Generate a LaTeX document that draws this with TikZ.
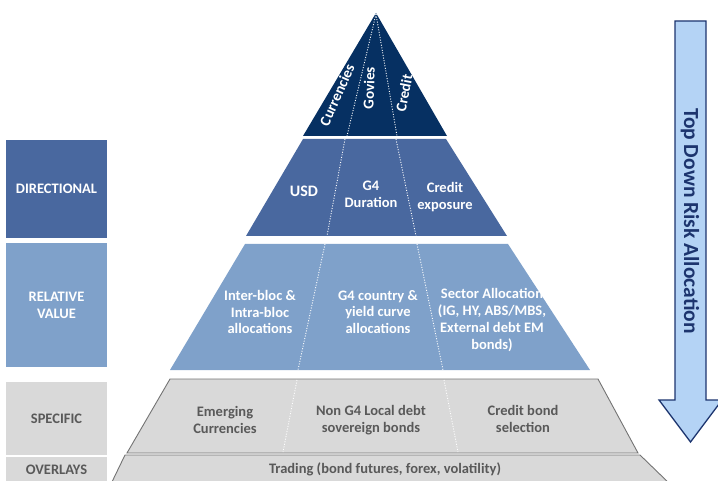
\documentclass[tikz,border=0pt]{standalone}
\usepackage{fontspec}
\setmainfont{Carlito}
\definecolor{navy}{RGB}{6,48,98}
\definecolor{dirblue}{RGB}{73,104,159}
\definecolor{relblue}{RGB}{127,161,202}
\definecolor{bandgray}{RGB}{217,217,217}
\definecolor{edgegray}{RGB}{115,115,115}
\definecolor{txtgray}{RGB}{89,89,89}
\definecolor{arrowfill}{RGB}{180,211,245}
\definecolor{arrowedge}{RGB}{28,52,110}
\tikzset{
  lbl/.style={font=\bfseries\fontsize{14.5}{16.8}\selectfont, text=white, align=center, inner sep=0pt},
  glbl/.style={font=\bfseries\fontsize{14.5}{16.8}\selectfont, text=txtgray, align=center, inner sep=0pt},
  sidebox/.style={font=\bfseries\fontsize{14.5}{16.8}\selectfont, align=center, inner sep=0pt},
  divider/.style={draw=white, line width=0.9pt, dash pattern=on 1pt off 1.6pt},
  gdivider/.style={draw=white, line width=0.9pt, dash pattern=on 1pt off 1.6pt},
}
\begin{document}
\begin{tikzpicture}[x=1pt,y=-1pt]
\useasboundingbox (0,0) rectangle (718,481);
\clip (0,0) rectangle (718,481);
% left boxes
\fill[dirblue] (6,140) rectangle (107,238);
\fill[relblue] (6,243) rectangle (107,367);
\fill[bandgray] (6,382) rectangle (107,455);
\fill[bandgray] (6,457) rectangle (107,485);
\node[sidebox, text=white] (ldir) at (56.5,189) {DIRECTIONAL};
\node[sidebox, text=white] (lrel) at (56.5,305) {RELATIVE\\VALUE};
\node[sidebox, text=txtgray] (lspec) at (56.5,418.5) {SPECIFIC};
\node[sidebox, text=txtgray] (lover) at (56.5,469.5) {OVERLAYS};
% pyramid bands
\fill[navy] (376,13) -- (447,136) -- (303,136) -- cycle;
\fill[dirblue] (303,139) -- (446,139) -- (507,236) -- (246,236) -- cycle;
\fill[relblue] (245,244) -- (508,244) -- (590,370) -- (170,370) -- cycle;
\filldraw[fill=bandgray, draw=edgegray, line width=0.9pt] (170,379) -- (598,379) -- (638,453) -- (127,453) -- cycle;
\filldraw[fill=bandgray, draw=edgegray, line width=0.9pt] (110,486) -- (125,455) -- (640,455) -- (672,486);
% dividers
\draw[divider] (376,14) -- (347,136);
\draw[divider] (376,14) -- (397,136);
\draw[divider] (345,139) -- (327,236);
\draw[divider] (396,139) -- (416,236);
\draw[divider] (325,244) -- (298,370);
\draw[divider] (417,244) -- (443,370);
\draw[gdivider] (297,380) -- (283,452);
\draw[gdivider] (444,380) -- (458,452);
% triangle labels
\node[lbl, font=\bfseries\fontsize{15}{18}\selectfont, rotate=66] (tcur) at (337,95) {Currencies};
\node[lbl, font=\bfseries\fontsize{15}{18}\selectfont, rotate=88] (tgov) at (369,88) {Govies};
\node[lbl, font=\bfseries\fontsize{15}{18}\selectfont, rotate=79] (tcre) at (404,93) {Credit};
% directional labels
\node[lbl, font=\bfseries\fontsize{16}{18}\selectfont] (dusd) at (304,191) {USD};
\node[lbl] (dg4) at (371,194) {G4\\Duration};
\node[lbl] (dcre) at (445,197) {Credit\\exposure};
% relative value labels
\node[lbl] (rint) at (260,312) {Inter-bloc \&\\Intra-bloc\\allocations};
\node[lbl] (rg4) at (378,312) {G4 country \&\\yield curve\\allocations};
\node[lbl] (rsec) at (492,320) {Sector Allocation\\(IG, HY, ABS/MBS,\\External debt EM\\bonds)};
% specific labels
\node[glbl] (sem) at (225,420) {Emerging\\Currencies};
\node[glbl] (sng) at (371,420) {Non G4 Local debt\\sovereign bonds};
\node[glbl] (scb) at (523,419) {Credit bond\\selection};
% overlays
\node[glbl] (otr) at (385,469) {Trading (bond futures, forex, volatility)};
% arrow
\filldraw[fill=arrowfill, draw=arrowedge, line width=1.3pt, line join=miter]
  (675,21) -- (706,21) -- (706,400) -- (722,400) -- (690.5,442) -- (659,400) -- (675,400) -- cycle;
\node[font=\bfseries\fontsize{21.5}{24}\selectfont, text=arrowedge, rotate=-90, inner sep=0pt] (arr) at (690,221) {Top Down Risk Allocation};
\end{tikzpicture}
\end{document}
